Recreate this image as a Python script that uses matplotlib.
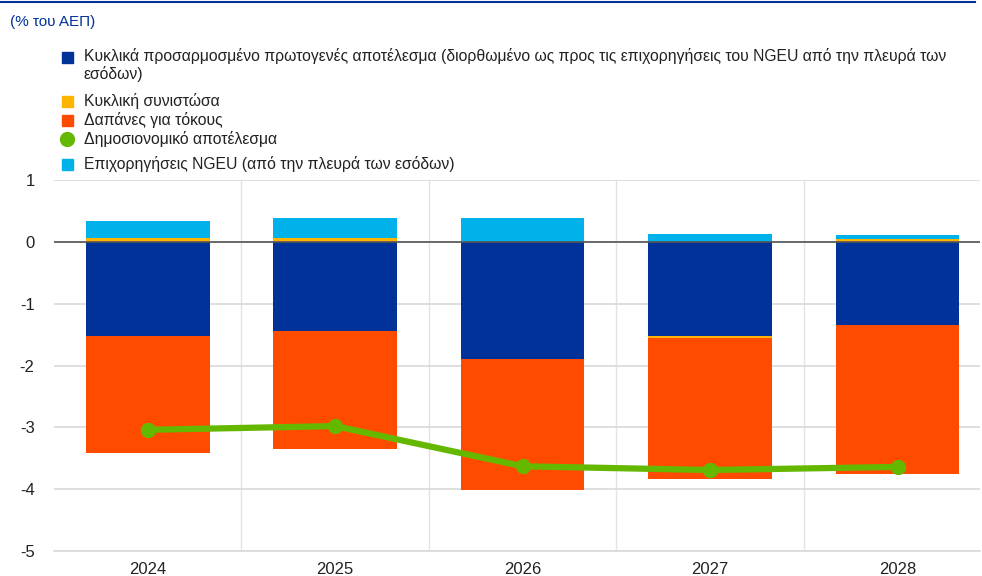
import matplotlib
matplotlib.use("Agg")
import matplotlib.pyplot as plt
from matplotlib.patches import Rectangle
from matplotlib.lines import Line2D
import numpy as np

plt.rcParams["font.family"] = ["Liberation Sans", "DejaVu Sans"]

years = ["2024", "2025", "2026", "2027", "2028"]
capb = [-1.52, -1.44, -1.89, -1.52, -1.34]      # cyclically adjusted primary balance
cyclical = [0.06, 0.06, 0.0, -0.04, 0.05]
interest = [-1.89, -1.91, -2.12, -2.27, -2.42]
ngeu = [0.28, 0.32, 0.38, 0.13, 0.06]
balance = [-3.04, -2.98, -3.63, -3.69, -3.64]

labels = [
    "Κυκλικά προσαρμοσμένο πρωτογενές αποτέλεσμα (διορθωμένο ως προς τις επιχορηγήσεις του NGEU από την πλευρά των\nεσόδων)",
    "Κυκλική συνιστώσα",
    "Δαπάνες για τόκους",
    "Δημοσιονομικό αποτέλεσμα",
    "Επιχορηγήσεις NGEU (από την πλευρά των εσόδων)",
]
C_BLUE = "#003299"
C_YEL = "#FFB400"
C_ORA = "#FF4B00"
C_GRN = "#65B800"
C_LBL = "#00B1EA"

W, H = 982, 576
fig = plt.figure(figsize=(W / 100, H / 100), dpi=100)
ax = fig.add_axes([54 / W, 1 - 551 / H, (980 - 54) / W, (551 - 180) / H])

x = np.arange(len(years))
bw = 0.66
capb = np.array(capb); cyc = np.array(cyclical); intr = np.array(interest); ng = np.array(ngeu)

# stacking: positives upward from 0, negatives downward
pos_base = np.zeros(len(x)); neg_base = np.zeros(len(x))
for vals, col in [(capb, C_BLUE), (cyc, C_YEL), (intr, C_ORA), (ng, C_LBL)]:
    bottoms = np.where(vals >= 0, pos_base, neg_base)
    ax.bar(x, vals, bw, bottom=bottoms, color=col, zorder=2, linewidth=0)
    pos_base = pos_base + np.where(vals >= 0, vals, 0)
    neg_base = neg_base + np.where(vals < 0, vals, 0)

ax.plot(x, balance, "-o", color=C_GRN, lw=4.5, ms=10, zorder=4)
ax.axhline(0, color="#555555", lw=1.2, zorder=3)

ax.set_xlim(-0.5, 4.44)
ax.set_ylim(-5, 1)
ax.set_yticks(range(-5, 2))
ax.set_yticklabels([str(v) for v in range(-5, 2)])
ax.set_xticks(x)
ax.set_xticklabels(years)
ax.set_xticks(x[:-1] + 0.5, minor=True)
ax.grid(axis="y", color="#d9d9d9", lw=1.2, zorder=0)
ax.grid(axis="x", which="minor", color="#e3e3e3", lw=1.0, zorder=0)
ax.grid(axis="x", which="major", visible=False)
for s in ["top", "right", "left"]:
    ax.spines[s].set_visible(False)
ax.spines["bottom"].set_color("#d9d9d9")
ax.spines["bottom"].set_linewidth(1.2)
ax.tick_params(axis="both", which="both", length=0, labelsize=12, colors="#222222")
ax.tick_params(axis="y", pad=14)
ax.tick_params(axis="x", pad=8)

# top rule and unit label
fig.add_artist(Line2D([0, 975 / W], [1 - 2 / H, 1 - 2 / H], color="#003299", lw=1.5))
fig.text(10 / W, 1 - 22 / H, "(% του ΑΕΠ)", color="#003299", fontsize=11, va="center")

# legend
ys = [57, 101, 120, 139, 164]
cols = [C_BLUE, C_YEL, C_ORA, C_GRN, C_LBL]
for lab, yy, col in zip(labels, ys, cols):
    fy = 1 - yy / H
    if col == C_GRN:
        fig.add_artist(Line2D([67 / W], [fy], marker="o", ms=10, color=col, lw=0))
    else:
        fig.add_artist(Rectangle((62 / W, fy - 5.5 / H), 11 / W, 11 / H, color=col,
                                 transform=fig.transFigure))
    if "\n" in lab:
        fig.text(84 / W, fy + 9 / H, lab, fontsize=11.3, va="top",
                 color="#222222", linespacing=1.12)
    else:
        fig.text(84 / W, fy, lab, fontsize=11.3, va="center", color="#222222")

fig.savefig("out.png", dpi=100)
